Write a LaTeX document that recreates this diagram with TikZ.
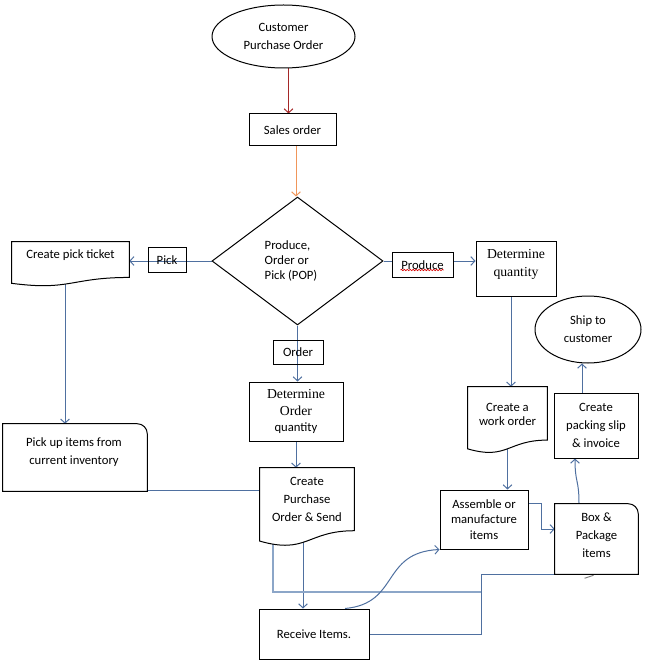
\documentclass[tikz,border=0pt]{standalone}
\usepackage{fontspec}
\setmainfont{Carlito}
\newfontfamily\tnr{Liberation Serif}
\usetikzlibrary{shapes.geometric,arrows.meta,calc,backgrounds,decorations.pathmorphing}
\definecolor{lineblue}{RGB}{79,112,160}
\definecolor{lightblue}{RGB}{140,166,200}
\definecolor{redc}{RGB}{165,40,40}
\definecolor{orangec}{RGB}{240,150,90}
\newcommand\docframe[1]{\draw[shp] (#1.north west) -- (#1.north east) -- ($(#1.north east)!0.802!(#1.south east)$) .. controls ($(#1.north)!0.802!(#1.south)$) and ($(#1.north)!1.107!(#1.south)$) .. ($(#1.north west)!0.934!(#1.south west)$) -- cycle;}
\newcommand\rtrbox[1]{\draw[shp] (#1.south west) -- (#1.north west) -- ($(#1.north east)+(-10,0)$) arc[start angle=270,end angle=360,radius=10] -- (#1.south east) -- cycle;}
\begin{document}
\begin{tikzpicture}[x=0.75pt,y=-0.75pt,
  every node/.style={font=\fontsize{9.5}{13.5}\selectfont, align=center, inner sep=0pt, text=black},
  sz/.style 2 args={minimum width=#1*0.75pt, minimum height=#2*0.75pt},
  shp/.style={draw=black, line width=0.75pt, fill=white},
  boxn/.style={shp, rectangle},
  lbl/.style={draw=black, line width=0.75pt, rectangle},
  ghost/.style={rectangle, draw=none},
  ellipn/.style={shp, ellipse},
  serif/.style={font=\tnr\fontsize{10.3}{13.5}\selectfont},
  conn/.style={draw=lineblue, line width=0.75pt, -{Straight Barb[length=3pt,width=6.5pt]}},
  plain/.style={draw=lineblue, line width=0.75pt},
  lightconn/.style={draw=lightblue, line width=1.5pt}]
\useasboundingbox (0,0) rectangle (644,666);

% ---- shapes ----
\node[ellipn, sz={143}{63}] (cpo) at (283.5,36.5) {Customer\\Purchase Order};
\node[boxn, sz={87}{32}] (sales) at (292.5,130) {Sales order};
\node[shp, diamond, sz={171}{128}] (pop) at (297.5,261) {};
\node[align=left, font=\fontsize{9.5}{11.6}\selectfont] (popt) at (291,261) {Produce,\\Order or\\Pick (POP)};
\node[lbl, sz={38}{24}] (pick) at (167,260) {Pick};
\node[boxn, sz={61}{24}] (prod) at (422.5,265) {Produce};
\draw[red!85!black, line width=0.5pt, decorate, decoration={snake, amplitude=0.5pt, segment length=2.2pt}] ($(prod.center)+(-22,5)$) -- ($(prod.center)+(21,5)$);
\node[boxn, sz={80}{54}] (detq) at (516,269) {};
\node[serif] (detqt) at (516,264) {Determine\\quantity};

\node[ghost, sz={117}{44}] (tkt) at (70.5,264) {};
\docframe{tkt}
\node (tktt) at (70.5,255) {Create pick ticket};

\node[ghost, sz={79}{66}] (wo) at (507.5,420) {};
\docframe{wo}
\node[font=\fontsize{9.5}{10.5}\selectfont] (wot) at (507.5,414) {Create a\\work order};

\node[lbl, sz={50}{24}] (order) at (298,352) {Order};
\node[boxn, sz={94}{59}, font=\fontsize{9.5}{12.5}\selectfont] (detoq) at (296,411.5) {{\tnr\fontsize{10.3}{12.5}\selectfont Determine}\\{\tnr\fontsize{10.3}{12.5}\selectfont Order}\\quantity};

\node[ghost, sz={94}{78}] (po) at (307,507) {};
\docframe{po}
\node (pot) at (307,499) {Create\\Purchase\\Order \& Send};

\node[ghost, sz={144}{67}] (pickup) at (75,457.5) {};
\rtrbox{pickup}
\node (pickupt) at (74,452) {Pick up items from\\current inventory};

\node[boxn, sz={110}{50}] (receive) at (314,634) {Receive Items.};
\node[boxn, sz={88}{59}, font=\fontsize{9.5}{11.6}\selectfont] (asm) at (484,519.5) {Assemble or\\manufacture\\items};

\node[ghost, sz={83}{70}] (boxpkg) at (596.5,539) {};
\rtrbox{boxpkg}
\node (boxpkgt) at (596.5,535.3) {Box \&\\Package\\items};

\node[boxn, sz={84}{65}] (slip) at (596,425.5) {Create\\packing slip\\\& invoice};
\node[ellipn, sz={106}{67}] (ship) at (588,329.5) {Ship to\\customer};

% ---- connectors ----
\begin{pgfonlayer}{background}
\fill[white] (0,0) rectangle (644,666);
\coordinate (c1) at ($(cpo.south)+(5,0)$);
\draw[conn, draw=redc] (c1) -- (c1 |- sales.north);
\coordinate (c2) at ($(sales.south)+(3.5,0)$);
\draw[conn, draw=orangec] (c2) -- (c2 |- pop.north);
\draw[conn] (pop.west) -- (pop.west -| tkt.east);
\coordinate (c4) at ($(pickup.north)+(-10,0)$);
\draw[conn] (c4 |- tkt.center) -- (c4);
\draw[conn] (pop.east) -- (pop.east -| detq.west);
\draw[conn] (pop.south) -- (pop.south |- detoq.north);
\coordinate (c7) at ($(detq.south)+(-5,0)$);
\draw[conn] (c7) -- (c7 |- wo.north);
\draw[conn] (detoq.south) -- (detoq.south |- po.north);
\coordinate (c9) at ($(receive.north)+(-11,0)$);
\draw[conn] (c9 |- po.center) -- (c9);
\coordinate (c10) at ($(po.south west)+(13,0)$);
\coordinate (j1) at (481,592);
\draw[lightconn] (c10 |- po.center) |- (j1);
\coordinate (c11) at ($(pickup.south east)+(0,-1)$);
\draw[plain] (c11) -- (c11 -| po.west);
\coordinate (k1) at ($(boxpkg.south west)+(-73,0)$);
\draw[plain] (receive.east) -| (k1) -- (boxpkg.south west);
\draw[conn] ($(receive.north)+(31,0)$) .. controls +(55,-5) and +(-59,3) .. (asm.south west);
\draw[conn] (wo.center) -- (wo.center |- asm.north);
\draw[conn] ($(asm.north east)+(0,14)$) -- ++(13,0) |- ($(boxpkg.west)+(0,-10)$);
\draw[conn] ($(boxpkg.north)+(-17.5,0)$) .. controls +(0,-25) and +(0,25) .. ($(slip.south)+(-21,0)$);
\coordinate (c17) at ($(slip.north)+(-14,0)$);
\draw[conn] (c17) -- (c17 |- ship.south);
\draw[plain, draw=gray] ($(boxpkg.south)+(-12,4)$) -- ($(boxpkg.south)+(-3,1)$);
\end{pgfonlayer}
\end{tikzpicture}
\end{document}
